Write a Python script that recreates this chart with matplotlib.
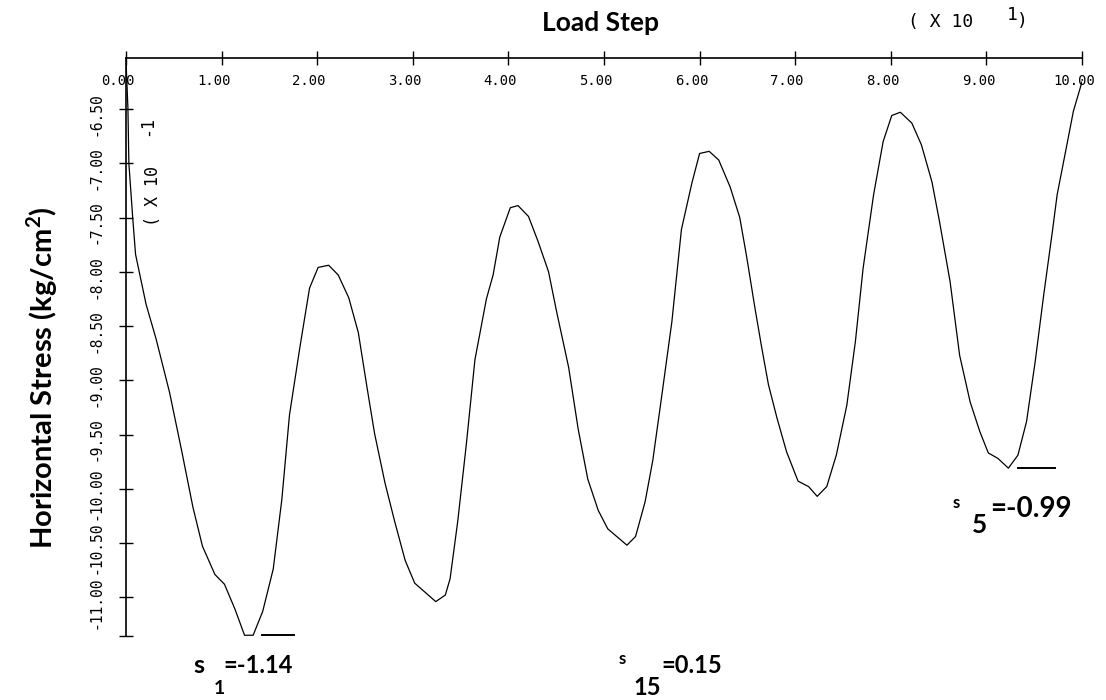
import matplotlib
matplotlib.use("Agg")
import matplotlib.pyplot as plt
import matplotlib.transforms as mtransforms
import numpy as np

# data (stress values are x 10^-1)
load_step = [0.00, 0.02, 0.03, 0.07, 0.10, 0.21, 0.315, 0.455, 0.58, 0.70,
             0.80, 0.93, 1.03, 1.14, 1.24, 1.33, 1.43, 1.54, 1.63, 1.71,
             1.82, 1.92, 2.01, 2.12, 2.22, 2.33, 2.43, 2.52, 2.60, 2.71,
             2.81, 2.92, 3.02, 3.24, 3.34, 3.39, 3.47, 3.56, 3.65, 3.77,
             3.84, 3.91, 4.02, 4.10, 4.21, 4.31, 4.42, 4.50, 4.63, 4.73,
             4.83, 4.94, 5.04, 5.24, 5.33, 5.43, 5.51, 5.60, 5.71, 5.81,
             5.92, 6.00, 6.10, 6.20, 6.32, 6.42, 6.49, 6.58, 6.65, 6.72,
             6.81, 6.91, 7.03, 7.14, 7.23, 7.33, 7.43, 7.54, 7.63, 7.71,
             7.82, 7.92, 8.01, 8.10, 8.22, 8.32, 8.43, 8.51, 8.62, 8.72,
             8.83, 8.93, 9.02, 9.12, 9.23, 9.33, 9.42, 9.51, 9.60, 9.69,
             9.74, 9.80, 9.91, 10.00]
stress = [-6.05, -6.49, -7.00, -7.50, -7.84, -8.30, -8.62, -9.11, -9.64, -10.17,
          -10.53, -10.79, -10.88, -11.11, -11.35, -11.35, -11.13, -10.74, -10.10, -9.32,
          -8.69, -8.15, -7.96, -7.94, -8.03, -8.24, -8.56, -9.06, -9.49, -9.95,
          -10.30, -10.66, -10.87, -11.04, -10.98, -10.83, -10.30, -9.59, -8.81, -8.25,
          -8.03, -7.68, -7.41, -7.39, -7.49, -7.72, -8.00, -8.35, -8.88, -9.45,
          -9.91, -10.20, -10.37, -10.52, -10.44, -10.12, -9.74, -9.17, -8.46, -7.61,
          -7.18, -6.91, -6.89, -6.97, -7.22, -7.50, -7.85, -8.34, -8.70, -9.04,
          -9.35, -9.66, -9.93, -9.98, -10.07, -9.98, -9.69, -9.23, -8.64, -7.97,
          -7.29, -6.80, -6.56, -6.53, -6.63, -6.83, -7.17, -7.54, -8.09, -8.77,
          -9.20, -9.47, -9.67, -9.72, -9.81, -9.69, -9.38, -8.83, -8.21, -7.63,
          -7.29, -7.02, -6.52, -6.25]

x_ticks = [0, 1, 2, 3, 4, 5, 6, 7, 8, 9, 10]
y_ticks = [-6.5, -7.0, -7.5, -8.0, -8.5, -9.0, -9.5, -10.0, -10.5, -11.0]
y_lo, y_hi = -11.357, -6.03

W, H = 1106, 700
fig = plt.figure(figsize=(W / 100, H / 100), dpi=100)
ax = fig.add_axes([126 / W, 1 - 636 / H, (1082 - 126) / W, (636 - 58) / H])

ax.plot(load_step, stress, color="black", lw=0.9)

# short bars beside the annotated minima
ls = np.array(load_step)
st = np.array(stress)
for lo, hi, dx0, dx1 in [(1.0, 1.6, 0.18, 0.52), (9.0, 9.5, 0.10, 0.49)]:
    m = (ls >= lo) & (ls <= hi)
    i = np.argmin(st[m])
    xm, ym = ls[m][i], st[m][i]
    ax.plot([xm + dx0, xm + dx1], [ym, ym], color="black", lw=1.4)

ax.set_xlim(0, 10)
ax.set_ylim(y_lo, y_hi)
for s in ["right", "bottom"]:
    ax.spines[s].set_visible(False)
for s in ["top", "left"]:
    ax.spines[s].set_linewidth(1.2)

mono = "DejaVu Sans Mono"
ax.xaxis.set_ticks_position("top")
ax.set_xticks(x_ticks)
ax.set_xticklabels([f"{v:.2f}" for v in x_ticks], family=mono, fontsize=10)
ax.tick_params(axis="x", direction="inout", length=10, width=1,
               labeltop=True, labelbottom=False, pad=-26.6)

ax.set_yticks(y_ticks + [y_lo])
ax.set_yticklabels([f"{v:.2f}" for v in y_ticks] + [""], family=mono,
                   fontsize=10.5, rotation=90, va="center")
ax.tick_params(axis="y", direction="inout", length=10, width=1, pad=11.5)

off_x = mtransforms.ScaledTranslation(-0.08, 0, fig.dpi_scale_trans)
for lbl in ax.get_xticklabels():
    lbl.set_transform(lbl.get_transform() + off_x)
off_y = mtransforms.ScaledTranslation(0, -0.05, fig.dpi_scale_trans)
for lbl in ax.get_yticklabels():
    lbl.set_transform(lbl.get_transform() + off_y)

plt.rcParams["mathtext.fontset"] = "custom"
plt.rcParams["mathtext.rm"] = "Lato:bold"
plt.rcParams["mathtext.bf"] = "Lato:bold"


def fx(px):
    return px / W


def fy(py):
    return 1 - py / H


sans = "Lato"
fig.text(fx(600), fy(31), "Load Step", family=sans, weight="bold",
         fontsize=19, ha="center", va="baseline")
fig.text(fx(908), fy(27), "( X 10", family=mono, fontsize=13, va="baseline")
fig.text(fx(1007), fy(20), "1", family=mono, fontsize=13, va="baseline")
fig.text(fx(1017), fy(26), ")", family=mono, fontsize=13, va="baseline")

fig.text(fx(42), fy(378), r"Horizontal Stress (kg/cm$^{\mathbf{2}}$)",
         family=sans, weight="bold", fontsize=21, rotation=90,
         ha="center", va="center")
fig.text(fx(153), fy(196), "( X 10", family=mono, fontsize=12, rotation=90,
         ha="center", va="center")
fig.text(fx(147), fy(126), "-1", family=mono, fontsize=12, rotation=90,
         ha="center", va="center")

# minimum stress annotations
fig.text(fx(193), fy(673), "s", family=sans, weight="bold", fontsize=18, va="baseline")
fig.text(fx(214), fy(694), "1", family=sans, weight="bold", fontsize=14, va="baseline")
fig.text(fx(223), fy(673), "=-1.14", family=sans, weight="bold", fontsize=17, va="baseline")

fig.text(fx(619), fy(664), "s", family=sans, weight="bold", fontsize=12, va="baseline")
fig.text(fx(633), fy(695), "15", family=sans, weight="bold", fontsize=17, va="baseline")
fig.text(fx(661), fy(673), "=0.15", family=sans, weight="bold", fontsize=17, va="baseline")

fig.text(fx(953), fy(508), "s", family=sans, weight="bold", fontsize=12, va="baseline")
fig.text(fx(972), fy(533), "5", family=sans, weight="bold", fontsize=19, va="baseline")
fig.text(fx(990), fy(517), "=-0.99", family=sans, weight="bold", fontsize=20, va="baseline")

fig.savefig("out.png", dpi=100, facecolor="white")
